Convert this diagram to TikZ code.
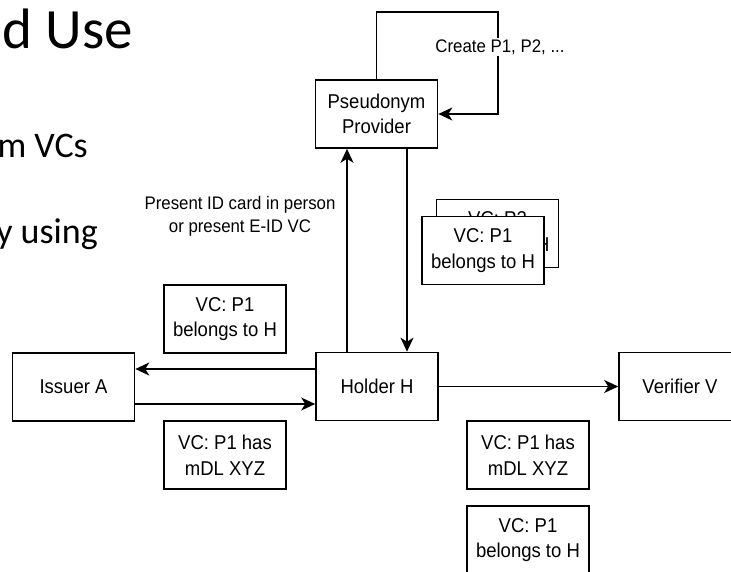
\documentclass[tikz,border=0pt]{standalone}
\usepackage{fontspec}
\setmainfont[FakeStretch=0.925]{Liberation Sans}
\newfontfamily\slidefont{Carlito}
\usetikzlibrary{arrows.meta}
\begin{document}
\begin{tikzpicture}[x=1pt,y=-1pt,
  box/.style={draw=black, line width=1.6pt, fill=white, minimum width=122pt,
    minimum height=68pt, inner sep=0pt, align=center,
    font=\fontsize{20}{25.5}\selectfont},
  flow/.style={line width=1.6pt, -{Stealth[length=14pt,width=13pt,inset=4pt]}},
  lbl/.style={fill=white, align=center, inner sep=1pt,
    font=\fontsize{18.2}{23}\selectfont},
  slide/.style={anchor=base east, inner sep=0pt,
    font=\slidefont\fontsize{36}{40}\selectfont}]
\useasboundingbox (0,0) rectangle (731,571);
\clip (0,0) rectangle (731,571);

% slide text behind the diagram
\node[slide, font=\slidefont\fontsize{57}{60}\selectfont] (t1) at (133,48) {d Use};
\node[slide] (t2) at (88,157) {m VCs};
\node[slide] (t3) at (98,243) {y using};

% parties
\node[box] (pp) at (376.5,114) {Pseudonym\\Provider};
\node[box] (holder) at (377,386.5) {Holder H};
\node[box] (issuer) at (73.5,387) {Issuer A};
\node[box] (verifier) at (680,386.5) {Verifier V};

% credentials
\node[box] (vcb) at (497.5,233.5) {VC: P2\\belongs to H};
\node[box] (vcf) at (483,250.5) {VC: P1\\belongs to H};
\node[box] (vcl1) at (225,319) {VC: P1\\belongs to H};
\node[box] (vcl2) at (225,455) {VC: P1 has\\mDL XYZ};
\node[box] (vcr1) at (528,455) {VC: P1 has\\mDL XYZ};
\node[box] (vcr2) at (528,540) {VC: P1\\belongs to H};

% helper coordinates for connector positions
\coordinate (loopc) at (498,12);
\coordinate (ux) at (347,0);
\coordinate (dx) at (407,0);
\coordinate (ya) at (0,369);
\coordinate (yb) at (0,404);

% self loop of the pseudonym provider
\draw[flow] (pp.north) |- (loopc) |- (pp.east);
\node[lbl] (create) at (500,47) {Create P1, P2, ...};

% holder <-> pseudonym provider
\draw[flow] (holder.north -| ux) -- (pp.south -| ux);
\draw[flow] (pp.south -| dx) -- (holder.north -| dx);
\node[lbl] (present) at (240,216) {Present ID card in person\\or present E-ID VC};

% holder <-> issuer
\draw[flow] (holder.west |- ya) -- (issuer.east |- ya);
\draw[flow] (issuer.east |- yb) -- (holder.west |- yb);

% holder -> verifier
\draw[flow] (holder.east) -- (verifier.west);
\end{tikzpicture}
\end{document}
